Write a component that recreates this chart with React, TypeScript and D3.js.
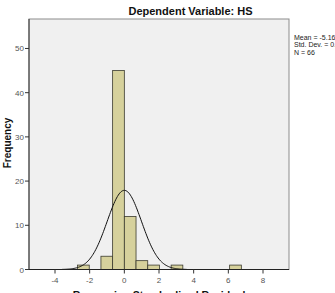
import React from "react";
import * as d3 from "d3";

const binStart = [-2.7, -1.35, -0.675, 0, 0.675, 1.35, 2.7, 6.075];
const binCounts = [1, 3, 45, 12, 2, 1, 1, 1];
const binWidth = 0.675;
const xTicks = [-4, -2, 0, 2, 4, 6, 8];
const yTicks = [0, 10, 20, 30, 40, 50];
const meanVal = 0;
const sdVal = 0.992;
const nVal = 66;
const statLines = ["Mean = -5.16E-16", "Std. Dev. = 0.992", "N = 66"];

export default function App() {
  const W = 335, H = 293;
  const L = 29, R = 289, T = 19, B = 269.5;
  const x = d3.scaleLinear().domain([-5.5, 9.5]).range([L, R]);
  const y = d3.scaleLinear().domain([0, 56.67]).range([B, T]);
  const pts: [number, number][] = d3.range(-3.6, 3.6001, 0.05).map((v) => [
    v,
    (nVal * binWidth) / (sdVal * Math.sqrt(2 * Math.PI)) *
      Math.exp(-((v - meanVal) ** 2) / (2 * sdVal * sdVal)),
  ]);
  const line = d3.line<[number, number]>().x((d) => x(d[0])).y((d) => y(d[1])).curve(d3.curveBasis);
  const font = "Arial, 'Liberation Sans', sans-serif";
  return (
    <svg width={W} height={H} style={{ position: "absolute", left: 0, top: 0 }} fontFamily={font}>
      <rect x={0} y={0} width={W} height={H} fill="#fff" />
      <rect x={L} y={T} width={R - L} height={B - T} fill="#f0f0f0" stroke="#8c8c8c" strokeWidth={1} />
      {binStart.map((s, i) => (
        <rect key={i} x={x(s)} y={y(binCounts[i])} width={x(s + binWidth) - x(s)} height={B - y(binCounts[i])}
          fill="#d6d19c" stroke="#3a3a2e" strokeWidth={0.8} />
      ))}
      <path d={line(pts) || ""} fill="none" stroke="#111" strokeWidth={1} />
      <line x1={L} x2={L} y1={T} y2={B} stroke="#333" strokeWidth={1} />
      <line x1={L} x2={R} y1={B} y2={B} stroke="#222" strokeWidth={1.2} />
      {yTicks.map((t) => (
        <g key={t}>
          <line x1={L - 4} x2={L} y1={y(t)} y2={y(t)} stroke="#333" />
          <text x={L - 5} y={y(t) + 3} fontSize={8} fill="#555" textAnchor="end">{t}</text>
        </g>
      ))}
      {xTicks.map((t) => (
        <g key={t}>
          <line x1={x(t)} x2={x(t)} y1={B} y2={B + 4} stroke="#333" />
          <text x={x(t)} y={B + 13} fontSize={8} fill="#555" textAnchor="middle">{t}</text>
        </g>
      ))}
      <text x={190.5} y={15} fontSize={11} fontWeight="bold" textAnchor="middle" fill="#111">Dependent Variable: HS</text>
      <text transform={`translate(11,143) rotate(-90)`} fontSize={10} fontWeight="bold" textAnchor="middle" fill="#111">Frequency</text>
      <text x={159} y={299} fontSize={10.5} fontWeight="bold" textAnchor="middle" fill="#111">Regression Standardized Residual</text>
      {statLines.map((s, i) => (
        <text key={i} x={294} y={39.5 + i * 7.5} fontSize={7} fill="#222">{s}</text>
      ))}
    </svg>
  );
}
